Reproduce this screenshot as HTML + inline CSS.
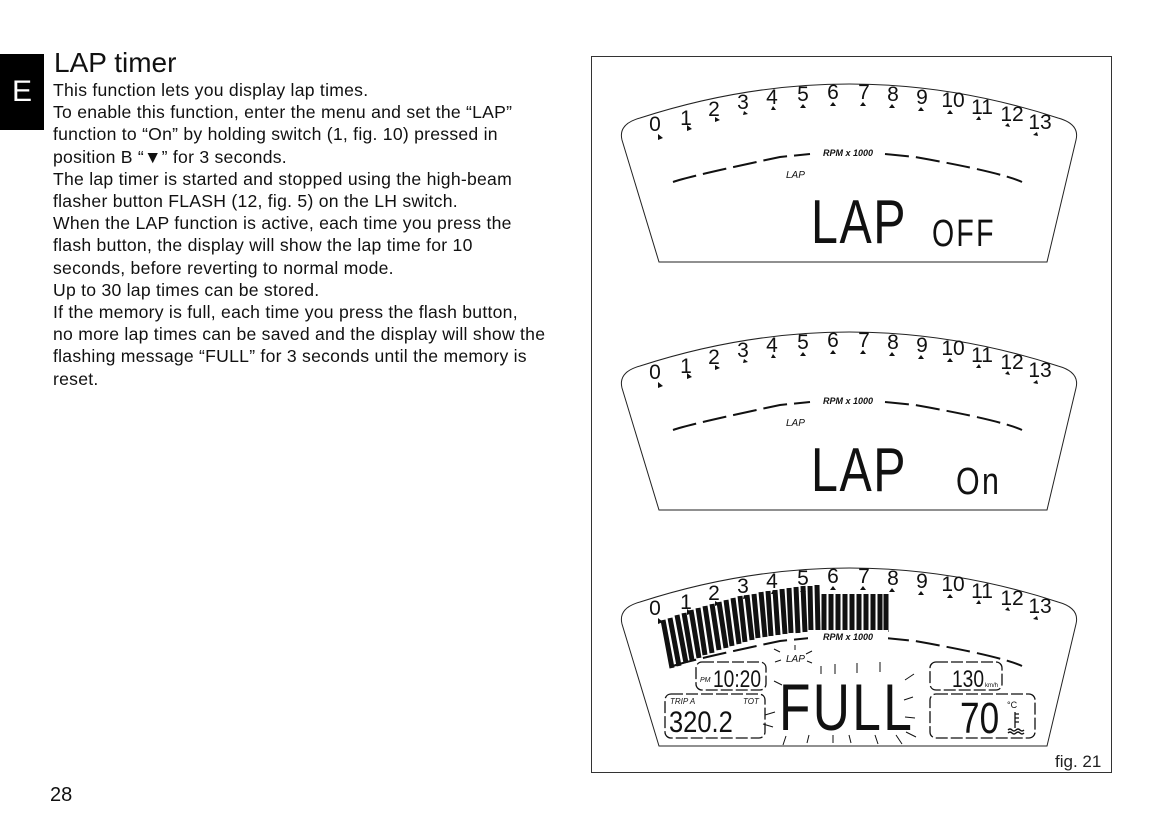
<!DOCTYPE html>
<html><head><meta charset="utf-8"><style>
body{margin:0;background:#fff;width:1166px;height:827px;overflow:hidden;position:relative;font-family:"Liberation Sans",sans-serif;color:#111}
.tab{position:absolute;left:0;top:54px;width:44px;height:76px;background:#000;color:#fff;font-size:30px;line-height:76px;text-align:center}
h1{position:absolute;left:54px;top:47px;margin:0;font-weight:normal;font-size:28px}
.body{position:absolute;left:53px;top:79px;font-size:17.6px;letter-spacing:0.25px;line-height:22.2px;white-space:pre}
.pg{position:absolute;left:50px;top:784px;font-size:20px}
svg{position:absolute;left:0;top:0}
</style></head><body>
<div class="tab">E</div>
<h1>LAP timer</h1>
<div class="body">This function lets you display lap times.
To enable this function, enter the menu and set the “LAP”
function to “On” by holding switch (1, fig. 10) pressed in
position B “▼” for 3 seconds.
The lap timer is started and stopped using the high-beam
flasher button FLASH (12, fig. 5) on the LH switch.
When the LAP function is active, each time you press the
flash button, the display will show the lap time for 10
seconds, before reverting to normal mode.
Up to 30 lap times can be stored.
If the memory is full, each time you press the flash button,
no more lap times can be saved and the display will show the
flashing message “FULL” for 3 seconds until the memory is
reset.</div>
<div class="pg">28</div>
<svg width="1166" height="827" viewBox="0 0 1166 827">
<defs>
<g id="disp">
<path d="M659,262 L622,140 Q618,124 640,118 Q850,50 1058,118 Q1080,124 1076,140 L1047,262 Z" fill="none" stroke="#222" stroke-width="1"/>
<g font-family="Liberation Sans" font-size="21" fill="#111" text-anchor="middle">
<text x="655" y="131">0</text><text x="686" y="125">1</text><text x="714" y="116">2</text><text x="743" y="109">3</text><text x="772" y="104">4</text><text x="803" y="101">5</text><text x="833" y="99">6</text><text x="864" y="99">7</text><text x="893" y="101">8</text><text x="922" y="104">9</text><text x="953" y="107">10</text><text x="982" y="114">11</text><text x="1012" y="121">12</text><text x="1040" y="129">13</text>
</g>
<g fill="#111">
<path d="M658,134l5,4-5,2z"/><path d="M687,125l5,4-5,2z"/><path d="M715,117l5,3-5,2z"/><path d="M744,111l4,3-5,1z"/><path d="M773,106l3,4h-5z"/><path d="M803,104l3,4h-6z"/><path d="M833,102l3,4h-6z"/><path d="M863,102l3,4h-6z"/><path d="M892,104l3,4h-6z"/><path d="M921,107l3,4h-6z"/><path d="M950,110l3,4-6,0z"/><path d="M979,116l2,4-5,0z"/><path d="M1008,123l2,4-5,-1z"/><path d="M1037,132l1,4-5,-1z"/>
</g>
<path d="M673,182 Q690,176 780,157 L810,154" fill="none" stroke="#111" stroke-width="2" stroke-dasharray="24,7"/>
<path d="M885,154 L915,157 Q1000,172 1022,182" fill="none" stroke="#111" stroke-width="2" stroke-dasharray="24,7"/>
<text x="848" y="156" font-family="Liberation Sans" font-weight="bold" font-style="italic" font-size="9" text-anchor="middle" fill="#111">RPM x 1000</text>
</g>
</defs>
<rect x="591.5" y="56.5" width="520" height="716" fill="none" stroke="#333" stroke-width="1"/>
<use href="#disp"/>
<text x="786" y="178" font-family="Liberation Sans" font-style="italic" font-size="10" fill="#111">LAP</text>
<text x="0" y="0" font-family="Liberation Sans" font-size="62" fill="#111" transform="translate(811,243) scale(0.78,1)" letter-spacing="2">LAP</text>
<text x="0" y="0" font-family="Liberation Sans" font-size="38" fill="#111" transform="translate(932,246) scale(0.75,1)" letter-spacing="3">OFF</text>
<use href="#disp" transform="translate(0,248)"/>
<text x="786" y="426" font-family="Liberation Sans" font-style="italic" font-size="10" fill="#111">LAP</text>
<text x="0" y="0" font-family="Liberation Sans" font-size="62" fill="#111" transform="translate(811,491) scale(0.78,1)" letter-spacing="2">LAP</text>
<text x="0" y="0" font-family="Liberation Sans" font-size="38" fill="#111" transform="translate(956,494) scale(0.8,1)" letter-spacing="3">On</text>
<use href="#disp" transform="translate(0,484)"/>
<g stroke="#111" stroke-width="5">
<path d="M663,620 L672,668 M670,618 L679,666 M677,615 L686,663 M684,613 L692,660 M691,610 L699,658 M698,608 L705,655 M705,606 L712,653 M712,604 L719,650 M719,602 L726,648 M726,600 L732,646 M733,598 L739,644 M740,596 L745,642 M747,595 L752,640 M754,594 L758,638 M761,592 L765,637 M768,591 L771,636 M775,590 L778,635 M782,589 L785,634 M789,588 L791,633 M796,587 L798,633 M803,586 L805,632 M810,586 L811,632 M817,585 L818,632 M824,594 L824,632 M831,594 L831,632 M838,594 L838,632 M845,594 L845,632 M852,594 L852,632 M859,594 L859,632 M866,594 L866,632 M873,594 L873,632 M880,594 L880,632 M886,594 L886,632"/>
</g>
<rect x="808" y="630" width="80" height="12" fill="#fff"/>
<text x="848" y="640" font-family="Liberation Sans" font-weight="bold" font-style="italic" font-size="9" text-anchor="middle" fill="#111">RPM x 1000</text>
<text x="786" y="662" font-family="Liberation Sans" font-style="italic" font-size="10" fill="#111">LAP</text>
<g stroke="#111" stroke-width="1">
<path d="M780,652l-6,-3M781,660l-6,2M795,650l0,-5M806,654l6,-3M807,661l5,2M821,666l0,8M835,664l0,10M857,663l0,10M880,662l0,10M905,680l9,-6M904,700l9,-3M905,717l10,1M906,732l10,5M782,685l-8,-4M773,727l-10,-3M775,712l-10,3M783,745l3,-9M807,743l2,-8M833,743l0,-8M851,743l-2,-8M878,744l-3,-9M902,744l-6,-9"/>
</g>
<g fill="none" stroke="#111" stroke-width="1.3" stroke-dasharray="12,3">
<rect x="696" y="662" width="70" height="28" rx="6"/>
<rect x="665" y="694" width="100" height="44" rx="6"/>
<rect x="930" y="662" width="72" height="28" rx="6"/>
<rect x="930" y="694" width="105" height="44" rx="6"/>
</g>
<text x="700" y="682" font-family="Liberation Sans" font-size="7" font-style="italic" fill="#111">PM</text>
<text x="0" y="0" font-family="Liberation Sans" font-size="24" fill="#111" transform="translate(713,687) scale(0.8,1)">10:20</text>
<text x="670" y="704" font-family="Liberation Sans" font-size="8" font-style="italic" fill="#111">TRIP A</text>
<text x="743" y="704" font-family="Liberation Sans" font-size="8" font-style="italic" fill="#111">TOT</text>
<text x="0" y="0" font-family="Liberation Sans" font-size="30" fill="#111" transform="translate(669,732) scale(0.85,1)">320.2</text>
<text x="0" y="0" font-family="Liberation Sans" font-size="66" fill="#111" transform="translate(779,730) scale(0.78,1)" letter-spacing="3">FULL</text>
<text x="0" y="0" font-family="Liberation Sans" font-size="24" fill="#111" transform="translate(952,687) scale(0.8,1)">130</text>
<text x="985" y="687" font-family="Liberation Sans" font-size="6" fill="#111">km/h</text>
<text x="0" y="0" font-family="Liberation Sans" font-size="44" fill="#111" transform="translate(960,733) scale(0.8,1)">70</text>
<text x="1007" y="708" font-family="Liberation Sans" font-size="9" fill="#111">°C</text>
<g stroke="#111" stroke-width="1.3" fill="none"><path d="M1015,712v16M1015,714h4M1015,718h4M1015,722h4M1008,730q2,-2 4,0t4,0t4,0t4,0M1008,733q2,-2 4,0t4,0t4,0t4,0"/></g>
<text x="1055" y="767" font-family="Liberation Sans" font-size="17" fill="#222">fig. 21</text>
</svg>
</body></html>
